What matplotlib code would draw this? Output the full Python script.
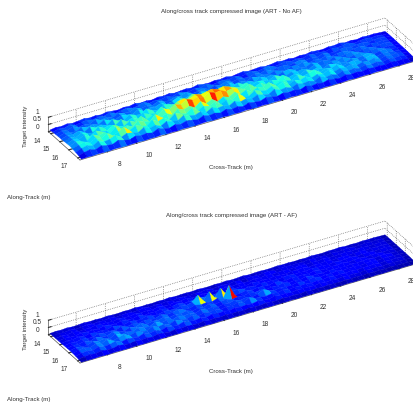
import numpy as np
import matplotlib
matplotlib.use("Agg")
import matplotlib.pyplot as plt
from matplotlib.transforms import Affine2D
from mpl_toolkits.mplot3d import proj3d

plt.rcParams['font.family'] = ['Liberation Sans', 'DejaVu Sans']
plt.rcParams['grid.linestyle'] = ':'
plt.rcParams['grid.linewidth'] = 0.5
plt.rcParams['grid.color'] = '#555555'

title_top = 'Along/cross track compressed image (ART - No AF)'
title_bottom = 'Along/cross track compressed image (ART - AF)'
x_label = 'Cross-Track (m)'
y_label = 'Along-Track (m)'
z_label = 'Target intensity'

cross_ticks = [8, 10, 12, 14, 16, 18, 20, 22, 24, 26, 28]
along_ticks = [14, 15, 16, 17]
z_ticks = [0, 0.5, 1]
z_tick_labels = ['0', '0.5', '1']

# sample positions (metres)
cross_m = np.linspace(6.2, 29.2, 60)
along_m = np.linspace(13.75, 17.25, 12)

# estimated intensity (percent of full scale), one list per along-track row
no_af_r00 = [8,14,10,16,9,13,18,11,15,9, 17,12,8,15,11,19,10,14,8,16, 12,18,9,13,16,10,20,12,9,15, 11,17,8,14,19,10,13,16,9,12, 18,11,15,8,14,10,17,12,9,16, 13,19,10,14,8,15,11,13,9,7]
no_af_r01 = [12,22,15,28,13,20,26,14,24,17, 30,13,21,27,15,19,32,14,23,16, 26,12,29,18,14,25,17,31,13,20, 24,15,28,12,19,26,14,22,30,13, 18,25,15,21,12,27,16,20,13,24, 15,19,26,12,17,22,14,18,11,9]
no_af_r02 = [14,26,18,33,15,24,16,36,20,28, 14,31,22,17,35,19,27,15,34,21, 16,29,24,38,17,22,30,14,26,19, 33,16,25,20,14,28,18,32,15,23, 27,13,21,30,16,24,14,28,18,13, 22,26,15,20,24,13,18,21,14,10]
no_af_r03 = [15,28,20,16,35,22,30,17,40,24, 18,36,26,20,42,17,30,24,38,19, 28,44,20,32,18,36,25,16,30,22, 38,18,27,15,33,21,26,16,31,19, 14,28,22,34,15,24,18,30,14,22, 26,15,20,27,13,23,17,20,12,10]
no_af_r04 = [16,30,24,38,18,44,26,34,20,48, 28,22,46,32,24,52,30,20,44,36, 26,50,34,60,42,28,48,24,38,30, 22,44,26,36,18,40,24,32,18,30, 36,20,26,16,34,22,28,15,30,18, 24,32,15,22,26,14,20,24,13,10]
no_af_r05 = [18,34,22,42,28,20,50,30,38,24, 54,28,44,22,48,34,26,58,32,42, 62,70,56,76,64,72,80,66,74,60, 46,32,50,26,40,34,22,44,28,20, 36,26,32,18,38,24,16,30,22,34, 15,26,30,16,22,28,14,20,12,9]
no_af_r06 = [20,36,26,46,22,52,34,28,56,38, 24,50,32,60,26,44,36,64,48,72, 58,84,68,78,62,88,70,76,58,66, 52,38,58,30,46,24,42,32,54,26, 38,22,44,28,34,18,36,26,30,16, 32,22,26,34,15,24,28,16,13,9]
no_af_r07 = [22,40,30,24,54,36,46,26,62,34, 48,30,58,40,28,66,36,50,30,60, 42,54,34,64,38,56,28,50,36,60, 32,52,26,46,38,56,28,42,34,24, 48,30,38,50,24,36,28,42,20,30, 36,18,28,38,17,26,22,18,14,9]
no_af_r08 = [18,36,44,28,50,34,58,30,46,66, 32,54,40,28,60,36,48,26,58,42, 34,62,30,50,38,56,28,46,34,64, 36,26,52,40,30,48,34,56,26,42, 32,46,24,38,28,48,20,34,26,38, 18,30,24,36,16,26,20,24,12,8]
no_af_r09 = [14,30,38,24,46,30,36,52,26,42, 34,24,48,30,40,22,44,32,26,50, 36,28,42,24,46,30,36,22,44,28, 38,24,42,30,22,46,28,34,20,38, 26,32,20,40,24,30,18,34,22,28, 16,30,20,26,14,24,18,20,11,7]
no_af_r10 = [9,20,28,16,32,22,18,36,24,14, 30,20,26,16,34,22,14,28,18,30, 24,14,32,20,26,15,30,18,24,14, 28,20,16,30,22,14,26,18,24,13, 28,16,22,14,26,18,12,24,16,20, 12,22,15,18,12,20,14,15,9,6]
no_af_r11 = [3,5,3,6,4,3,7,4,3,5, 6,3,5,4,7,3,5,3,6,4, 3,5,7,3,4,6,3,5,3,7, 4,3,6,3,5,4,3,6,3,5, 4,7,3,5,3,4,3,6,3,4, 5,3,6,3,4,5,3,4,3,3]

af_r00 = [5,8,6,9,5,7,10,6,8,5, 9,6,5,8,6,10,5,7,5,8, 6,10,5,7,8,5,9,6,5,8, 6,9,5,7,10,5,7,8,5,6, 9,6,8,5,7,5,9,6,5,8, 7,10,5,7,5,8,6,7,5,4]
af_r01 = [6,10,7,12,6,9,13,7,11,8, 14,6,10,12,7,9,15,7,11,8, 12,6,13,9,7,11,8,14,6,10, 11,7,13,6,9,12,7,10,14,6, 9,12,7,10,6,13,8,10,6,11, 7,9,12,6,8,10,7,9,6,5]
af_r02 = [7,12,9,15,7,11,8,17,10,13, 7,15,11,8,16,9,13,7,16,10, 8,14,11,18,8,11,14,7,12,9, 15,8,12,10,7,13,9,15,7,11, 13,7,10,14,8,11,7,13,9,7, 10,12,7,10,11,7,9,10,7,5]
af_r03 = [7,13,10,8,16,11,14,8,18,12, 9,17,12,10,20,8,14,12,18,9, 13,21,10,15,9,17,12,8,14,11, 18,9,13,7,16,10,12,8,15,9, 7,13,11,16,7,12,9,14,7,11, 12,7,10,13,7,11,8,10,6,5]
af_r04 = [8,14,11,18,9,20,12,16,10,22, 13,10,21,15,11,24,14,10,20,17, 12,23,16,26,63,14,64,12,66,11, 18,24,13,17,9,19,12,15,9,14, 17,10,13,8,16,11,14,7,15,9, 12,15,7,11,13,7,10,12,6,5]
af_r05 = [9,16,11,20,13,10,24,14,18,12, 26,13,21,11,23,16,12,27,15,20, 28,16,13,24,14,18,12,26,15,90, 14,13,22,11,18,15,10,20,13,9, 17,12,15,9,18,11,8,14,10,16, 7,12,14,8,10,13,7,10,6,5]
af_r06 = [10,18,13,24,11,27,17,14,30,20, 12,26,16,32,13,23,18,28,14,22, 17,26,12,20,15,28,13,19,24,12, 17,14,20,12,18,10,16,13,22,11, 15,9,18,12,14,8,15,11,13,7, 14,10,11,15,7,11,13,8,7,5]
af_r07 = [11,20,15,12,28,18,24,13,34,17, 25,15,31,21,14,36,18,26,15,30, 19,24,14,28,17,22,12,19,15,24, 13,20,11,18,40,22,12,17,14,10, 20,13,16,22,10,15,12,18,9,13, 15,8,12,16,8,11,10,8,7,5]
af_r08 = [10,20,26,15,30,19,36,16,26,38, 17,30,22,15,34,19,26,14,30,21, 16,28,14,22,17,24,13,20,15,26, 14,36,20,16,12,18,13,22,11,16, 13,18,10,15,11,19,9,13,10,15, 8,12,10,14,7,11,8,10,6,5]
af_r09 = [8,17,22,13,28,17,21,32,14,24, 19,13,28,16,23,12,25,18,14,27, 18,13,20,11,21,14,17,10,19,13, 16,11,18,13,10,19,12,14,9,16, 11,13,9,15,10,12,8,14,9,11, 7,12,8,10,6,10,8,8,5,4]
af_r10 = [5,11,15,9,18,12,10,20,13,8, 16,11,14,9,18,12,8,15,10,14, 11,7,14,9,11,7,13,8,10,6, 12,9,7,13,9,6,11,8,10,6, 11,7,9,6,10,7,5,9,6,8, 5,8,6,7,5,7,5,6,4,3]
af_r11 = [2,3,2,4,3,2,4,3,2,3, 4,2,3,3,4,2,3,2,4,3, 2,3,4,2,3,4,2,3,2,4, 3,2,4,2,3,3,2,4,2,3, 3,4,2,3,2,3,2,4,2,3, 3,2,4,2,3,3,2,3,2,2]

no_af_rows = [no_af_r00, no_af_r01, no_af_r02, no_af_r03, no_af_r04, no_af_r05,
              no_af_r06, no_af_r07, no_af_r08, no_af_r09, no_af_r10, no_af_r11]
af_rows = [af_r00, af_r01, af_r02, af_r03, af_r04, af_r05,
           af_r06, af_r07, af_r08, af_r09, af_r10, af_r11]

W, H = 414, 405
fig = plt.figure(figsize=(W / 100, H / 100), dpi=100, facecolor='white')

XLIM = (6.1, 29.2)
YLIM = (17.25, 13.75)
ZLIM = (0, 1)
TEXT = '#303030'
jet = plt.get_cmap('jet')


def to_pixels(ax, x, y, z):
    ax.apply_aspect()
    px, py, _ = proj3d.proj_transform(x, y, z, ax.get_proj())
    return ax.transData.transform((px, py))


def fit_axes(ax, p_front, p_back):
    """Place the 3D box so two floor corners land on the reference pixels."""
    for _ in range(3):
        a = to_pixels(ax, XLIM[0], YLIM[0], 0)
        b = to_pixels(ax, XLIM[1], YLIM[1], 0)
        want_a = np.array([p_front[0], H - p_front[1]], float)
        want_b = np.array([p_back[0], H - p_back[1]], float)
        ratio = (want_b[0] - want_a[0]) / (b[0] - a[0])
        pos = ax.get_position()
        side = pos.width * W * ratio
        cx = (pos.x0 + pos.width / 2) * W
        cy = (pos.y0 + pos.height / 2) * H
        new_cx = want_a[0] + (cx - a[0]) * ratio
        new_cy = want_a[1] + (cy - a[1]) * ratio
        ax.set_position([(new_cx - side / 2) / W, (new_cy - side / 2) / H, side / W, side / H])


def face_colours(Z):
    """Colour each facet by its corners, keeping the true value on strong peaks."""
    values = Z.copy()
    corners = (Z[:-1, :-1] + Z[1:, :-1] + Z[:-1, 1:] + Z[1:, 1:]) / 4
    blend = 0.65 * corners + 0.35 * Z[:-1, :-1]
    values[:-1, :-1] = np.where(Z[:-1, :-1] > 0.62, Z[:-1, :-1], blend)
    return jet(values)


def panel(rows, title, dy):
    ax = fig.add_axes([0.0, 0.0, 1.0, 1.0 * W / H], projection='3d')
    ax.set_proj_type('ortho')
    ax.set_box_aspect((XLIM[1] - XLIM[0], (YLIM[0] - YLIM[1]) * 1.08, 1))
    ax.view_init(elev=31, azim=-119.8)
    ax.set_facecolor('none')
    ax.set_xlim(*XLIM)
    ax.set_ylim(*YLIM)
    ax.set_zlim(*ZLIM)

    X, Y = np.meshgrid(cross_m, along_m)
    Z = np.array(rows, float) / 100.0
    ax.plot_surface(X, Y, Z, rstride=1, cstride=1, facecolors=face_colours(Z),
                    linewidth=0.25, antialiased=True, shade=False)

    ax.set_xticks(cross_ticks)
    ax.set_yticks(along_ticks)
    ax.set_zticks(z_ticks)
    ax.set_zticklabels(z_tick_labels)
    ax.tick_params(labelsize=4.7, colors=TEXT, pad=-4, width=0.4)
    offsets = ((ax.xaxis, 3.2, 11, -8), (ax.yaxis, 0.35, -4.5, -1.5), (ax.zaxis, 0.1, -1, 10))
    for axis, out, ox, oy in offsets:
        axis.set_pane_color((1, 1, 1, 0))
        axis.pane.set_edgecolor('none')
        axis.line.set_color('#555555')
        axis.line.set_linewidth(0.5)
        axis._axinfo['tick']['inward_factor'] = 0
        axis._axinfo['tick']['outward_factor'] = out
        for tick in axis.get_major_ticks():
            tick.label1.set_transform(ax.transData + Affine2D().translate(ox, oy))
            # Axis3D re-applies transData on every draw; keep the pixel offset
            tick.label1.set_transform = lambda *_: None

    fit_axes(ax, (80, 160 + dy), (385, 31 + dy))

    def label(px, py, s, **kw):
        ax.text2D(px / W, 1 - py / H, s, transform=fig.transFigure, ha='center',
                  va='center', fontsize=4.4, color=TEXT, **kw)

    label(231.5, 12 + dy, title)
    label(230.5, 168 + dy, x_label)
    label(29, 197 + dy, y_label)
    label(25.5, 126 + dy, z_label, rotation=90)
    return ax


panel(no_af_rows, title_top, 0)
panel(af_rows, title_bottom, 203)

fig.savefig('out.png', dpi=100, facecolor='white')
